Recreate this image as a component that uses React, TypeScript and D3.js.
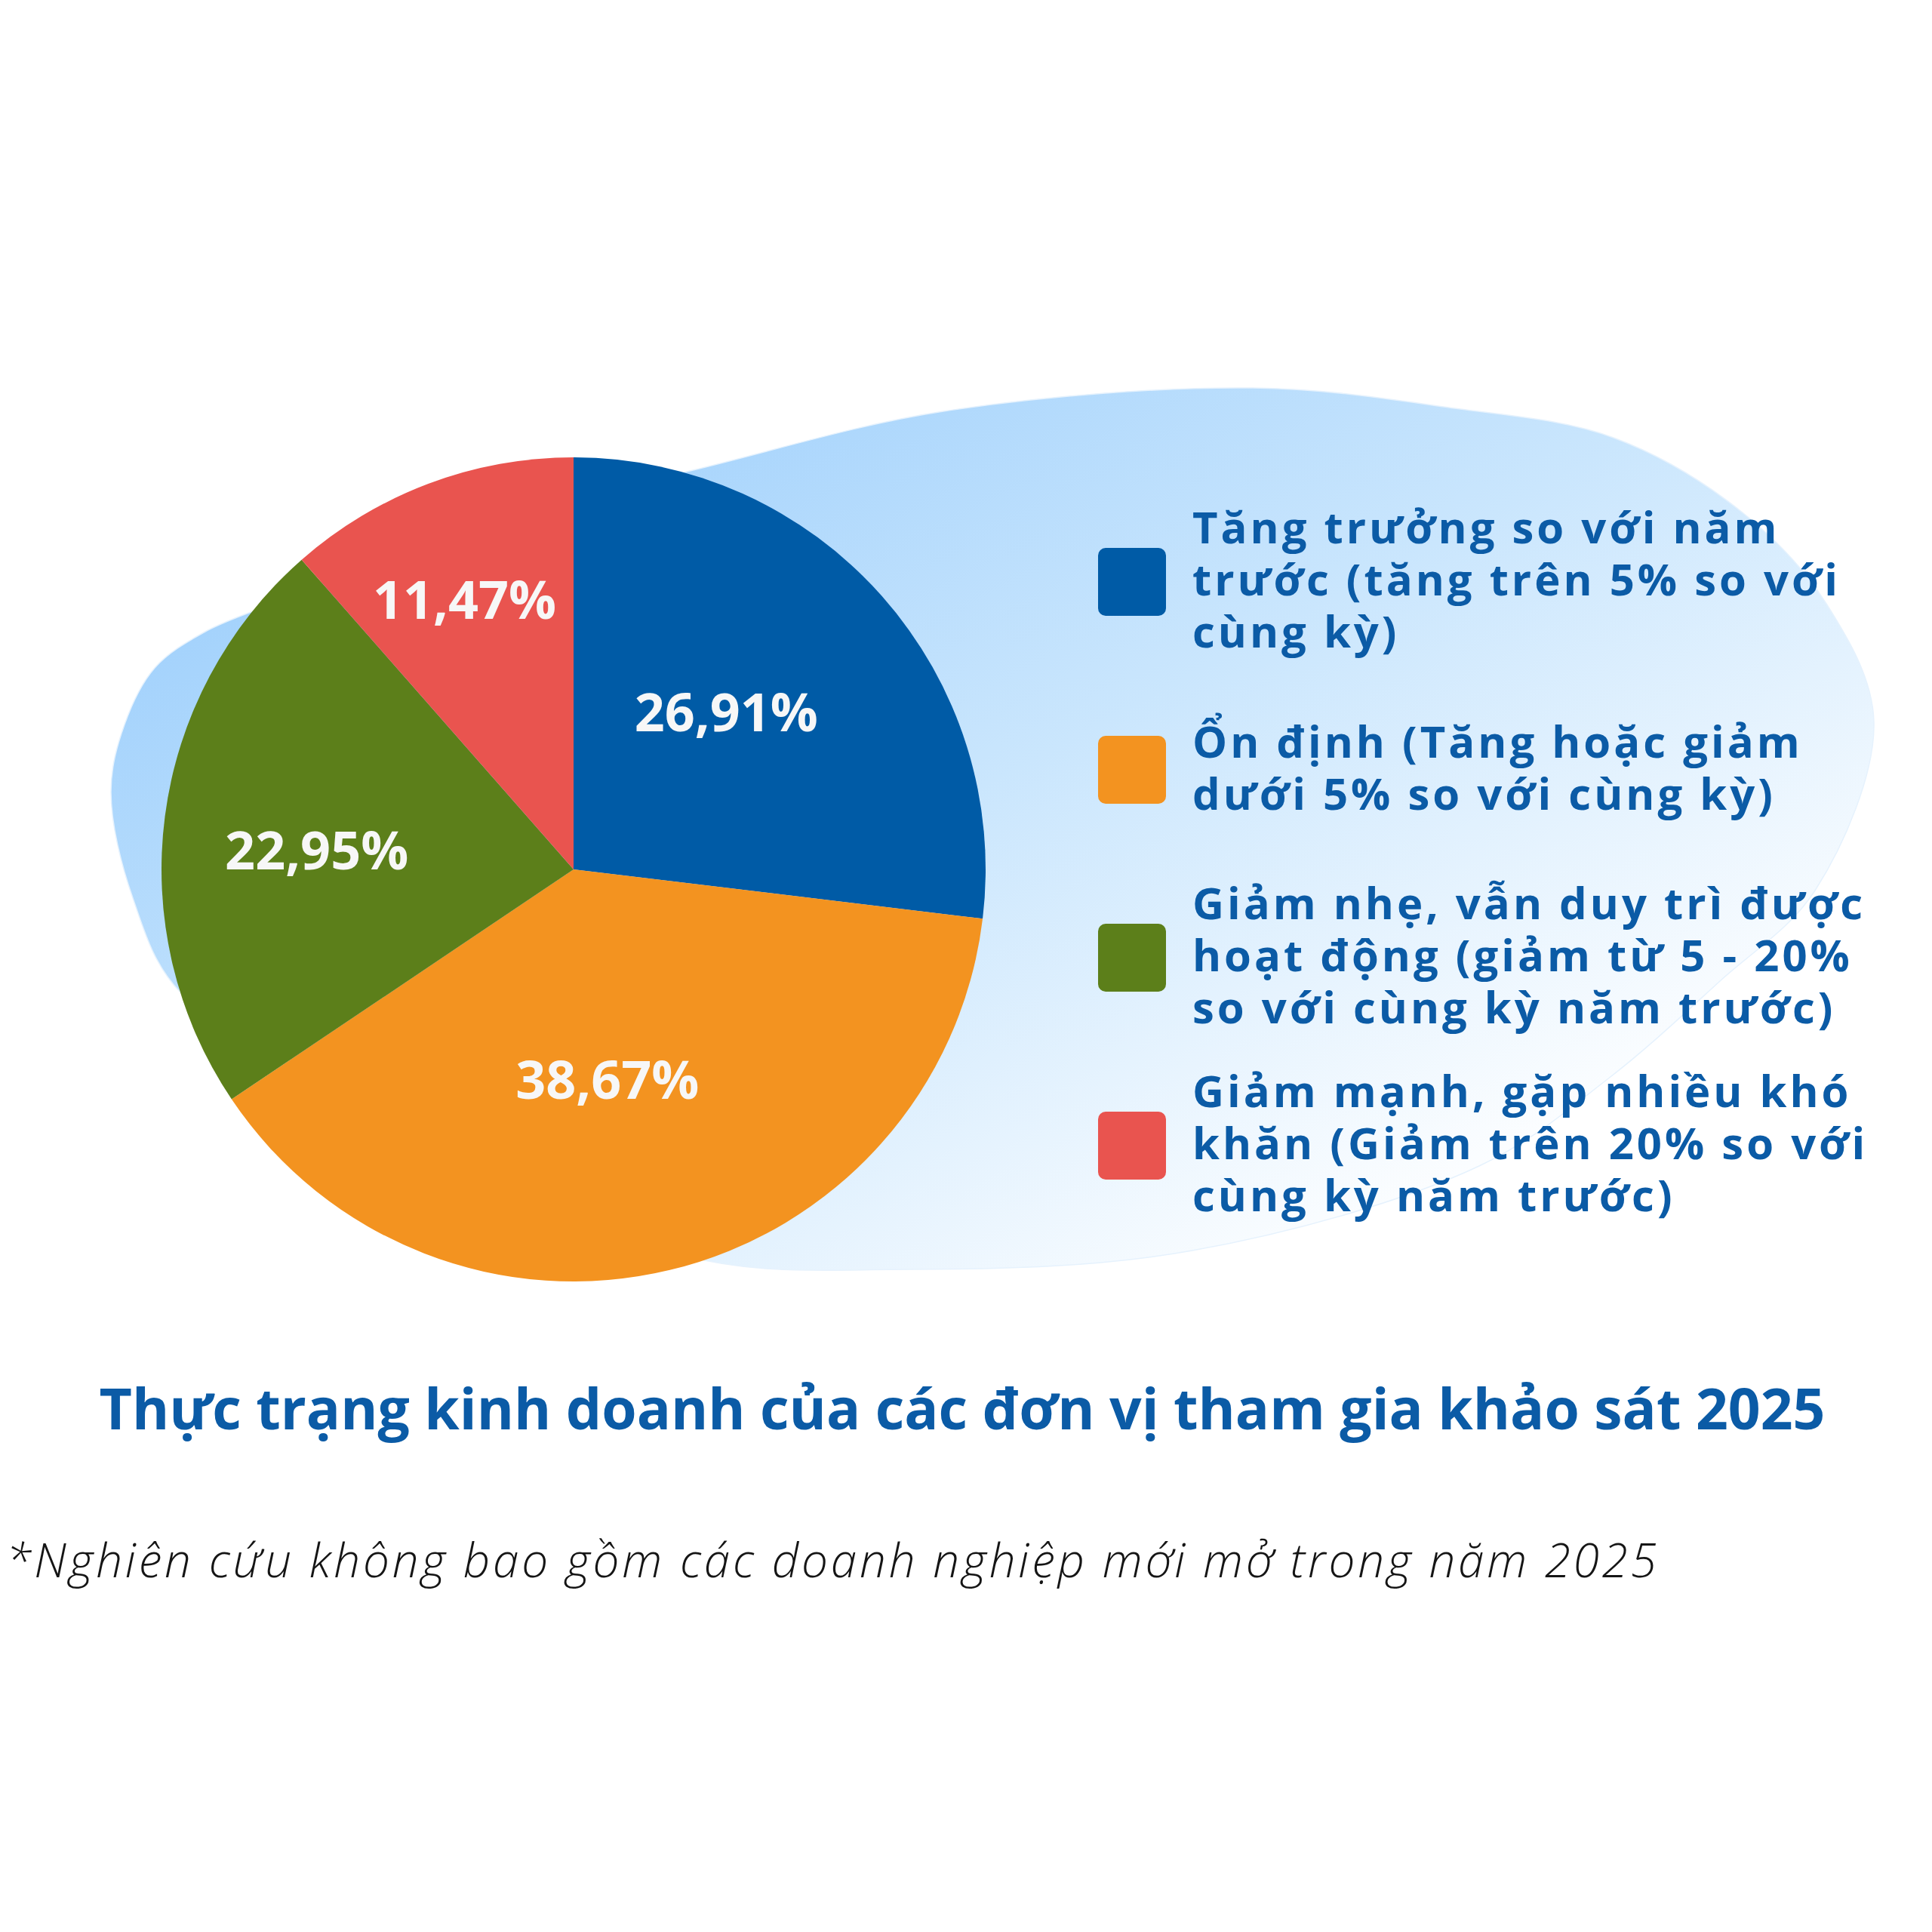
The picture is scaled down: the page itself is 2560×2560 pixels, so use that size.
import React from "react";
import * as d3 from "d3";

const categories = [
  ["Tăng trưởng so với năm", "trước (tăng trên 5% so với", "cùng kỳ)"],
  ["Ổn định (Tăng hoặc giảm", "dưới 5% so với cùng kỳ)"],
  ["Giảm nhẹ, vẫn duy trì được", "hoạt động (giảm từ 5 - 20%", "so với cùng kỳ năm trước)"],
  ["Giảm mạnh, gặp nhiều khó", "khăn (Giảm trên 20% so với", "cùng kỳ năm trước)"],
];
const values = [26.91, 38.67, 22.95, 11.47];
const valueLabels = ["26,91%", "38,67%", "22,95%", "11,47%"];
const colors = ["#005BA6", "#F39320", "#5C7F1A", "#E9544F"];
const labelRadiusFactor = [0.531, 0.518, 0.625, 0.705];
const labelAngleShiftDeg = [-4.2, 4.4, -3.2, -1.4];

const title = "Thực trạng kinh doanh của các đơn vị tham gia khảo sát 2025";
const footnote = "*Nghiên cứu không bao gồm các doanh nghiệp mới mở trong năm 2025";

const W = 2560;
const H = 2560;
const cx = 760;
const cy = 1152;
const R = 546;
const textBlue = "#0B5BA6";
const FONT = "'Open Sans', 'Noto Sans', sans-serif";

const blobPts: [number, number][] = [
  [147, 1050], [165, 960], [205, 885], [270, 838], [360, 800], [600, 700], [914, 624], [1250, 545],
  [1660, 514], [1920, 540], [2138, 580], [2310, 680], [2420, 800], [2483, 957], [2405, 1180],
  [2279, 1300], [2130, 1430], [1960, 1545], [1580, 1657], [1205, 1682], [900, 1662],
  [500, 1460], [240, 1316], [176, 1190],
];

export default function App() {
  const pie = d3.pie<number>().sort(null).value((d) => d);
  const arcs = pie(values);
  const arc = d3.arc<d3.PieArcDatum<number>>().innerRadius(0).outerRadius(R);
  const blob = d3.line().curve(d3.curveCatmullRomClosed.alpha(0.5))(blobPts) || "";

  const legendX = 1455;
  const legendY0 = 771;
  const legendStep = 249;
  const sq = 90;
  const lineH = 69;
  const legendFont = 58;

  return (
    <svg width={W} height={H} viewBox={`0 0 ${W} ${H}`}
      style={{ display: "block", background: "#fff", position: "absolute", left: 0, top: 0 }}>
      <defs>
        <linearGradient id="bg" gradientUnits="userSpaceOnUse" x1={1000} y1={450} x2={1700} y2={1750}>
          <stop offset="0" stopColor="#A5D3FC" />
          <stop offset="0.45" stopColor="#CAE6FD" />
          <stop offset="1" stopColor="#FFFFFF" />
        </linearGradient>
      </defs>
      <rect x={0} y={0} width={W} height={H} fill="#fff" />
      <path d={blob} fill="url(#bg)" stroke="#E6F2FD" strokeWidth={1.5} />
      <g transform={`translate(${cx},${cy})`}>
        {arcs.map((a, i) => (
          <path key={i} d={arc(a) || ""} fill={colors[i]} />
        ))}
        {arcs.map((a, i) => {
          const mid = (a.startAngle + a.endAngle) / 2 + (labelAngleShiftDeg[i] * Math.PI) / 180;
          const r = R * labelRadiusFactor[i];
          const x = Math.sin(mid) * r;
          const y = -Math.cos(mid) * r;
          return (
            <text key={i} x={x} y={y} dy="0.36em" textAnchor="middle" fill="#F7F7F7"
              fontFamily={FONT} fontWeight={700} fontSize={70}>
              {valueLabels[i]}
            </text>
          );
        })}
      </g>
      {categories.map((lines, i) => {
        const c = legendY0 + i * legendStep;
        const firstBase = c + 18 - ((lines.length - 1) * lineH) / 2;
        return (
          <g key={i}>
            <rect x={legendX} y={c - sq / 2} width={sq} height={sq} rx={10} fill={colors[i]} />
            <text fontFamily={FONT} fontWeight={700} fontSize={legendFont} fill={textBlue} letterSpacing={4}>
              {lines.map((l, j) => (
                <tspan key={j} x={1580} y={firstBase + j * lineH}>{l}</tspan>
              ))}
            </text>
          </g>
        );
      })}
      <text x={1275} y={1894} textAnchor="middle" fontFamily={FONT} fontWeight={700} fontSize={75} fill={textBlue}>
        {title}
      </text>
      <text x={8} y={2090} fontFamily={FONT} fontWeight={300} fontStyle="italic" fontSize={62}
        letterSpacing={3.8} fill="#151515">
        {footnote}
      </text>
    </svg>
  );
}
